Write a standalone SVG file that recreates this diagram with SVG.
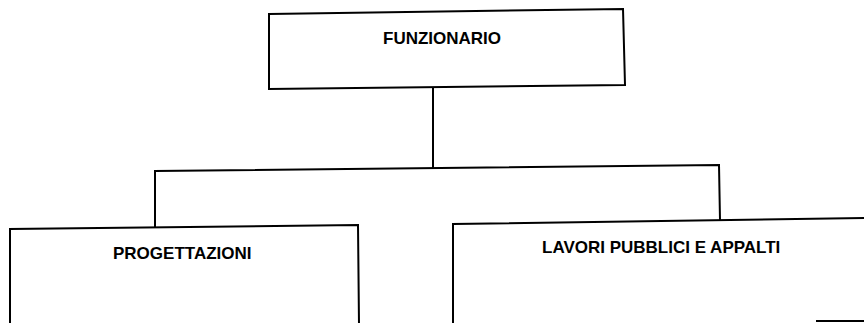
<svg xmlns="http://www.w3.org/2000/svg" width="864" height="323" viewBox="0 0 864 323">
<style>
.box{fill:#fff;stroke:#000;stroke-width:2;stroke-linejoin:miter}
.ln{fill:none;stroke:#000;stroke-width:2}
.lbl{font-family:"Liberation Sans",Arial,sans-serif;font-weight:bold;font-size:17px;fill:#000}
</style>
<rect width="864" height="323" fill="#fff"/>
<g id="connectors">
<path class="ln" d="M433,88 L433,168"/>
<path class="ln" d="M155,228 L155,171 L719,165 L720,220"/>
</g>
<g id="funzionario">
<path class="box" d="M269,14 L623,9 L625,85 L269,89 Z"/>
<text class="lbl" x="383" y="44">FUNZIONARIO</text>
</g>
<g id="progettazioni">
<path class="box" d="M10,324 L10,229 L358,225 L359,324"/>
<text class="lbl" x="113" y="259">PROGETTAZIONI</text>
</g>
<g id="lavori">
<path class="box" d="M453,324 L453,224 L866,218"/>
<path class="ln" d="M816,321 L864,321"/>
<text class="lbl" x="542" y="253">LAVORI PUBBLICI E APPALTI</text>
</g>
</svg>
